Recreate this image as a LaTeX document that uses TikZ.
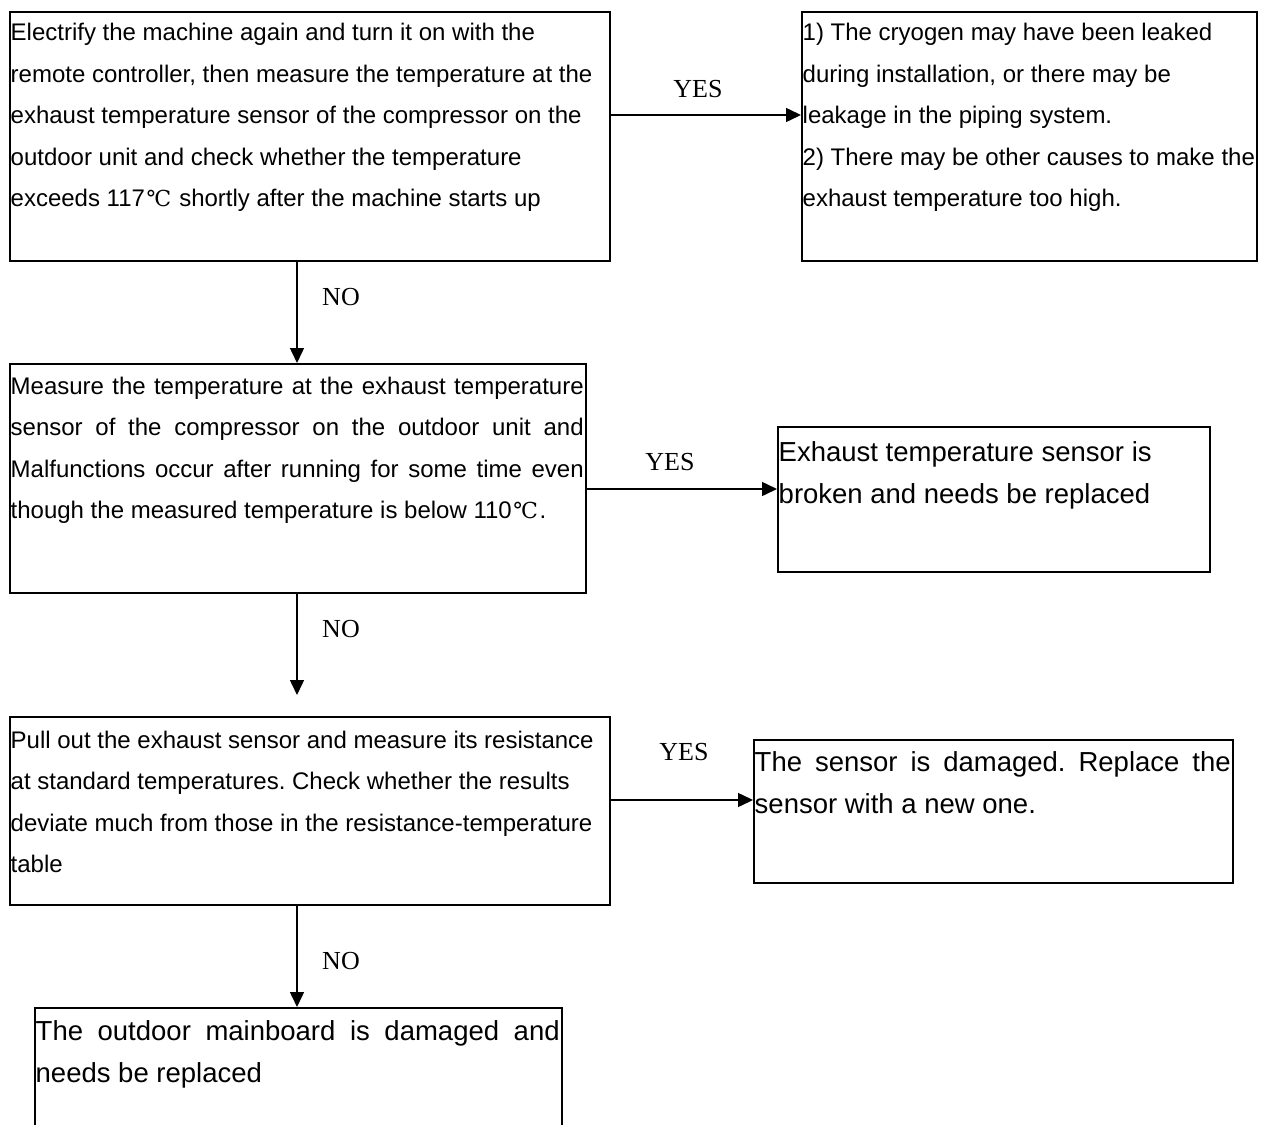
\documentclass[tikz,border=0pt]{standalone}
\usepackage{fontspec}
\setmainfont{Liberation Sans}
\newfontfamily\yesnofont{Liberation Serif}
\newfontfamily\cjkfont{DejaVu Serif}
\usetikzlibrary{arrows.meta}
\newcommand{\degC}{\hspace{1.5pt}{\cjkfont\fontsize{22}{22}\selectfont ℃}\hspace{1.5pt}}
\newcommand{\smallsz}{\fontsize{24}{41.5}\selectfont\frenchspacing}
\newcommand{\bigsz}{\fontsize{27.5}{42}\selectfont\frenchspacing}
\newcommand{\jline}[2]{\makebox[#1][s]{#2}}
\begin{document}
\begin{tikzpicture}[x=1pt,y=-1pt,
  box/.style={draw, line width=1.6pt, inner sep=0pt, anchor=north west},
  conn/.style={line width=1.5pt, -{Triangle[length=15pt,width=14pt]}},
  lbl/.style={font=\yesnofont\fontsize{26}{26}\selectfont, anchor=base, inner sep=0pt},
  txt/.style={inner sep=0pt, anchor=base west}]
\path[use as bounding box, clip] (0,0) rectangle (1263,1124);

% boxes
\node[box, minimum width=600pt, minimum height=249pt] (b1) at (9,11) {};
\node[box, minimum width=455pt, minimum height=249pt] (b2) at (801,11) {};
\node[box, minimum width=576pt, minimum height=229pt] (b3) at (9,363) {};
\node[box, minimum width=432pt, minimum height=145pt] (b4) at (777,426) {};
\node[box, minimum width=600pt, minimum height=188pt] (b5) at (9,716) {};
\node[box, minimum width=479pt, minimum height=143pt] (b6) at (753,739) {};
\node[box, minimum width=527pt, minimum height=140pt] (b7) at (34,1007) {};

% texts
\node[txt] (t1) at (10.5,41) {\begin{minipage}[t]{700pt}\smallsz
Electrify the machine again and turn it on with the\\
remote controller, then measure the temperature at the\\
exhaust temperature sensor of the compressor on the\\
outdoor unit and check whether the temperature\\
exceeds 117\degC{} shortly after the machine starts up\end{minipage}};

\node[txt] (t2) at (802.5,41) {\begin{minipage}[t]{700pt}\smallsz
1) The cryogen may have been leaked\\
during installation, or there may be\\
leakage in the piping system.\\
2) There may be other causes to make the\\
exhaust temperature too high.\end{minipage}};

\node[txt] (t3) at (10.5,394) {\begin{minipage}[t]{700pt}\smallsz
\jline{573pt}{Measure the temperature at the exhaust temperature}\\
\jline{573pt}{sensor of the compressor on the outdoor unit and}\\
\jline{573pt}{Malfunctions occur after running for some time even}\\
though the measured temperature is below 110\degC.\end{minipage}};

\node[txt] (t4) at (778.5,461) {\begin{minipage}[t]{700pt}\bigsz
Exhaust temperature sensor is\\
broken and needs be replaced\end{minipage}};

\node[txt] (t5) at (10.5,748) {\begin{minipage}[t]{700pt}\smallsz
Pull out the exhaust sensor and measure its resistance\\
at standard temperatures. Check whether the results\\
deviate much from those in the resistance-temperature\\
table\end{minipage}};

\node[txt] (t6) at (754.5,771) {\begin{minipage}[t]{700pt}\bigsz
\jline{476pt}{The sensor is damaged. Replace the}\\
sensor with a new one.\end{minipage}};

\node[txt] (t7) at (35.5,1040) {\begin{minipage}[t]{700pt}\bigsz
\jline{524pt}{The outdoor mainboard is damaged and}\\
needs be replaced\end{minipage}};

% connectors
\coordinate (n2end) at (297,695);
\draw[conn] (b1.east |- 0,115) -- (b2.west |- 0,115);
\draw[conn] (b3.east |- 0,489) -- (b4.west |- 0,489);
\draw[conn] (b5.east |- 0,800) -- (b6.west |- 0,800);
\draw[conn] (b1.south -| 297,0) -- (b3.north -| 297,0);
\draw[conn] (b3.south -| 297,0) -- (n2end);
\draw[conn] (b5.south -| 297,0) -- (b7.north -| 297,0);

% labels
\node[lbl] (y1) at (698,97) {YES};
\node[lbl] (y2) at (670,470) {YES};
\node[lbl] (y3) at (684,760) {YES};
\node[lbl] (n1) at (341,305) {NO};
\node[lbl] (n2) at (341,637) {NO};
\node[lbl] (n3) at (341,969) {NO};
\end{tikzpicture}
\end{document}
